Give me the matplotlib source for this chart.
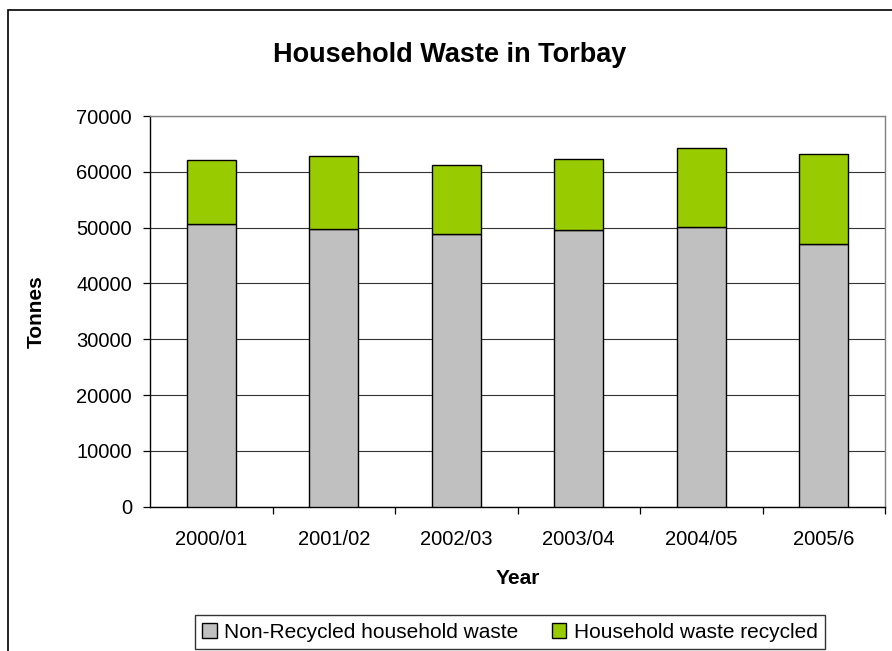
import matplotlib
matplotlib.use('Agg')
import matplotlib.pyplot as plt
from matplotlib.patches import Rectangle
import numpy as np

plt.rcParams['font.family'] = ['Liberation Sans', 'DejaVu Sans']

# data (tonnes)
years = ['2000/01', '2001/02', '2002/03', '2003/04', '2004/05', '2005/6']
non_recycled = [50650, 49800, 48900, 49500, 50050, 47100]
recycled = [11500, 12950, 12400, 12800, 14200, 16150]

W, H = 892, 651
fig = plt.figure(figsize=(W / 100, H / 100), dpi=100)

# outer chart border (Excel style)
fig.patches.append(Rectangle((8 / W, -0.01), 1, 1.01 - 10 / H, transform=fig.transFigure,
                             fill=False, edgecolor='black', linewidth=1.2))

ax = fig.add_axes([150 / W, 1 - 506.7 / H, (885 - 150) / W, (506.7 - 116) / H])
x = np.arange(len(years))
ax.bar(x, non_recycled, width=0.4, color='#C0C0C0', edgecolor='black',
       linewidth=1.0, label='Non-Recycled household waste', zorder=3)
ax.bar(x, recycled, width=0.4, bottom=non_recycled, color='#99CC00',
       edgecolor='black', linewidth=1.0, label='Household waste recycled', zorder=3)

ax.set_xlim(-0.5, len(years) - 0.5)
ax.set_ylim(0, 70000)
ax.set_yticks(range(0, 70001, 10000))
ax.yaxis.grid(True, color='#333333', linewidth=0.8, zorder=0)

ax.set_xticks(x)
ax.set_xticklabels(years, fontsize=14.5)
ax.set_xticks(np.arange(0.5, len(years) - 0.5 + 0.01, 1), minor=True)
ax.tick_params(axis='x', which='major', length=0, pad=17)
ax.tick_params(axis='x', which='minor', length=5, width=0.9, direction='out')
ax.tick_params(axis='y', length=5, width=0.9, labelsize=14.5, pad=8)

for s in ['left', 'bottom']:
    ax.spines[s].set_color('black')
    ax.spines[s].set_linewidth(1.0)
for s in ['top', 'right']:
    ax.spines[s].set_color('#808080')
    ax.spines[s].set_linewidth(1.0)

ax.set_xlabel('Year', fontsize=15, fontweight='bold', labelpad=14)
ax.set_ylabel('Tonnes', fontsize=15, fontweight='bold', labelpad=22)

fig.text(450 / W, 1 - 55 / H, 'Household Waste in Torbay', ha='center', va='center',
         fontsize=19.5, fontweight='bold')

leg = fig.legend(loc='center', bbox_to_anchor=(510 / W, 1 - 632 / H), ncol=2,
                 fontsize=15, frameon=True, fancybox=False, handlelength=0.7,
                 handleheight=0.7, handletextpad=0.35, columnspacing=1.6,
                 borderpad=0.35, borderaxespad=0)
leg.get_frame().set_edgecolor('black')
leg.get_frame().set_linewidth(1.0)

fig.savefig('out.png', dpi=100, facecolor='white')
